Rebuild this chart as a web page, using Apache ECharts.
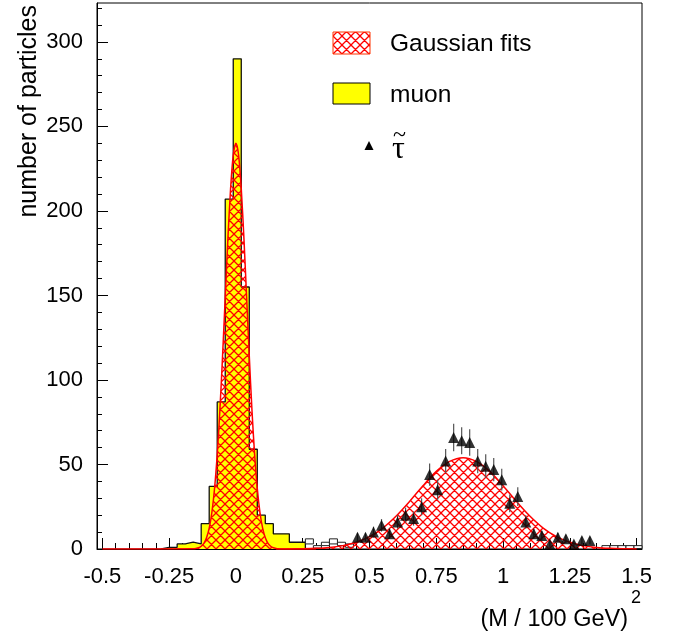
<!DOCTYPE html>
<html><head><meta charset="utf-8">
<script src="https://cdn.jsdelivr.net/npm/echarts@6/dist/echarts.min.js"></script>
<style>html,body{margin:0;padding:0;background:#fff}#c{width:678px;height:640px}</style>
</head><body><div id="c"></div>
<script>
// ---- muon histogram (bin left edges, bin width 0.03) ----
const binWidth = 0.03;
const muonEdges = [-0.28,-0.25,-0.22,-0.19,-0.16,-0.13,-0.10,-0.07,-0.04,-0.01,0.02,0.05,0.08,0.11,0.14,0.17,0.20,0.23];
const muonCounts = [1,1,3,4,3,15,37,87,207,290,155,59,20,15,9,9,4,4];
// ---- small hollow boxes (bin left edge, low, high) ----
const boxLeft = [0.26,0.29,0.32,0.35,0.38,0.41,1.37,1.40,1.43,1.46,1.49];
const boxLow  = [3,0.5,2,3,2,1,0.3,0.3,0.3,0.3,0.3];
const boxHigh = [6,2,4,6,4,3,2,2,2,2,2];
// ---- stau points ----
const tauX = [0.455,0.485,0.515,0.545,0.575,0.605,0.635,0.665,0.695,0.725,0.755,0.785,0.815,0.845,0.875,0.905,0.935,0.965,0.995,1.025,1.055,1.085,1.115,1.145,1.175,1.205,1.235,1.265,1.295,1.325];
const tauY = [7,7,10,14,9,16,20,18,25,44,35,52,66,64,63,52,49,47,41,27,31,16,9,8,3,7,6,3,5,5];
const tauErr = [2.6,2.6,3.2,3.7,3,4,4.5,4.2,5,6.6,5.9,7.2,8.1,8,7.9,7.2,7,6.9,6.4,5.2,5.6,4,3,2.8,1.7,2.6,2.4,1.7,2.2,2.2];
// ---- Gaussian fit curves ----
const muFitX = [-0.5,-0.16,-0.15,-0.14,-0.13,-0.12,-0.11,-0.10,-0.09,-0.08,-0.07,-0.06,-0.05,-0.04,-0.03,-0.02,-0.01,0,0.01,0.02,0.03,0.04,0.05,0.06,0.07,0.08,0.09,0.10,0.11,0.12,0.13,0.14,0.15,0.16,0.3];
const muFitY = [0,0.1,0.3,0.7,1.6,3.3,6.6,12.3,21.6,35.8,55.9,82.2,114.1,149.1,183.6,213.1,233.0,240,233.0,213.1,183.6,149.1,114.1,82.2,55.9,35.8,21.6,12.3,6.6,3.3,1.6,0.7,0.3,0.1,0];
const tauFitX = [0.15,0.20,0.25,0.30,0.35,0.40,0.45,0.50,0.55,0.60,0.65,0.70,0.75,0.80,0.85,0.90,0.95,1.00,1.05,1.10,1.15,1.20,1.25,1.30,1.35,1.40,1.45,1.50];
const tauFitY = [0.02,0.05,0.15,0.39,0.91,2.0,4.0,7.3,12.4,19.5,28.1,37.4,45.9,51.8,54,51.8,45.9,37.4,28.1,19.5,12.4,7.3,4.0,2.0,0.91,0.39,0.15,0.05];
// ---- axis ticks ----
const xMajor = [-0.5,-0.25,0,0.25,0.5,0.75,1,1.25,1.5];
const xMinor = [-0.45,-0.4,-0.35,-0.3,-0.2,-0.15,-0.1,-0.05,0.05,0.1,0.15,0.2,0.3,0.35,0.4,0.45,0.55,0.6,0.65,0.7,0.8,0.85,0.9,0.95,1.05,1.1,1.15,1.2,1.3,1.35,1.4,1.45];
const yMajor = [0,50,100,150,200,250,300];
const yMinor = [10,20,30,40,60,70,80,90,110,120,130,140,160,170,180,190,210,220,230,240,260,270,280,290,310,320];

function makeHatch(color){
  const s = 9, c = document.createElement('canvas');
  c.width = s; c.height = s;
  const ctx = c.getContext('2d');
  ctx.strokeStyle = color; ctx.lineWidth = 1.3;
  ctx.beginPath();
  for (let k=-1;k<=1;k++){
    ctx.moveTo(k*s,0); ctx.lineTo(k*s+s,s);
    ctx.moveTo(k*s,s); ctx.lineTo(k*s+s,0);
  }
  ctx.stroke();
  return c;
}
const hatch = makeHatch('#ff0000');
const FONT = 'Liberation Sans, Arial, Helvetica, sans-serif';
const SERIF = 'Liberation Serif, Times New Roman, serif';

const muonLine = [[muonEdges[0],0]];
muonEdges.forEach((e,i)=>muonLine.push([e,muonCounts[i]]));
muonLine.push([muonEdges[muonEdges.length-1]+binWidth,0]);

const boxData = boxLeft.map((l,i)=>[l,boxLow[i],boxHigh[i]]);
const tauData = tauX.map((x,i)=>[x,tauY[i],tauErr[i]]);

const chart = echarts.init(document.getElementById('c'), null, {renderer:'canvas'});
chart.setOption({
  animation:false,
  backgroundColor:'#fff',
  grid:{left:97,top:3,right:36,bottom:91,show:true,borderColor:'#000',borderWidth:1,backgroundColor:'transparent'},
  xAxis:[
    {type:'value',min:-0.52,max:1.52,position:'bottom',
     axisLine:{show:true,onZero:false,lineStyle:{color:'#000',width:1}},
     axisTick:{show:true,inside:true,length:11,customValues:xMajor,lineStyle:{color:'#000'}},
     axisLabel:{show:true,customValues:xMajor,color:'#000',fontSize:22,fontFamily:FONT,margin:17,
       formatter:v=>String(+v.toFixed(2))},
     splitLine:{show:false}},
    {type:'value',min:-0.52,max:1.52,position:'bottom',gridIndex:0,
     axisLine:{show:false,onZero:false},
     axisTick:{show:true,inside:true,length:6,customValues:xMinor,lineStyle:{color:'#000'}},
     axisLabel:{show:false},splitLine:{show:false}}
  ],
  yAxis:[
    {type:'value',min:0,max:323,position:'left',
     axisLine:{show:true,onZero:false,lineStyle:{color:'#000',width:1}},
     axisTick:{show:true,inside:true,length:11,customValues:yMajor,lineStyle:{color:'#000'}},
     axisLabel:{show:true,customValues:yMajor,color:'#000',fontSize:22,fontFamily:FONT,margin:14},
     splitLine:{show:false}},
    {type:'value',min:0,max:323,position:'left',gridIndex:0,
     axisLine:{show:false,onZero:false},
     axisTick:{show:true,inside:true,length:5,customValues:yMinor,lineStyle:{color:'#000'}},
     axisLabel:{show:false},splitLine:{show:false}}
  ],
  series:[
    {name:'muon',type:'line',step:'end',data:muonLine,symbol:'none',z:2,
     lineStyle:{color:'#111',width:1.3},areaStyle:{color:'#ffff00',opacity:1}},
    {name:'boxes',type:'custom',z:3,data:boxData,
     renderItem:(p,api)=>{
       const a=api.coord([api.value(0),api.value(2)]);
       const b=api.coord([api.value(0)+binWidth,api.value(1)]);
       return {type:'rect',shape:{x:a[0],y:a[1],width:b[0]-a[0],height:b[1]-a[1]},
         style:{fill:'#fff',stroke:'#222',lineWidth:1}};
     }},
    {name:'Gaussian fits',type:'line',data:muFitX.map((x,i)=>[x,muFitY[i]]),smooth:0.3,symbol:'none',z:4,
     lineStyle:{color:'#ff0000',width:1.5},areaStyle:{color:{image:hatch,repeat:'repeat'},opacity:1}},
    {name:'Gaussian fits',type:'line',data:tauFitX.map((x,i)=>[x,tauFitY[i]]),smooth:0.3,symbol:'none',z:4,
     lineStyle:{color:'#ff0000',width:1.5},areaStyle:{color:{image:hatch,repeat:'repeat'},opacity:1}},
    {name:'errors',type:'custom',z:5,data:tauData,
     renderItem:(p,api)=>{
       const t=api.coord([api.value(0),api.value(1)+api.value(2)]);
       const b=api.coord([api.value(0),Math.max(0,api.value(1)-api.value(2))]);
       return {type:'line',shape:{x1:t[0],y1:t[1],x2:b[0],y2:b[1]},style:{stroke:'#555',lineWidth:1.2}};
     }},
    {name:'tau',type:'scatter',z:6,data:tauData.map(d=>[d[0],d[1]]),symbol:'triangle',symbolSize:[11,11],
     itemStyle:{color:'#000'}}
  ],
  graphic:[
    {type:'text',x:29,y:5,rotation:Math.PI/2,style:{text:'number of particles',fill:'#000',font:'25px '+FONT,align:'right',verticalAlign:'middle'}},
    {type:'text',x:628,y:620,style:{text:'(M / 100 GeV)',fill:'#000',font:'23.5px '+FONT,align:'right',verticalAlign:'middle'}},
    {type:'text',x:631,y:598,style:{text:'2',fill:'#000',font:'18px '+FONT,align:'left',verticalAlign:'middle'}},
    {type:'rect',shape:{x:333,y:32,width:37,height:22},style:{fill:{image:hatch,repeat:'repeat'},stroke:'#ff3300',lineWidth:1}},
    {type:'text',x:390,y:44,style:{text:'Gaussian fits',fill:'#000',font:'24.5px '+FONT,align:'left',verticalAlign:'middle'}},
    {type:'rect',shape:{x:333,y:83,width:37,height:21},style:{fill:'#ffff00',stroke:'#000',lineWidth:1}},
    {type:'text',x:390,y:95,style:{text:'muon',fill:'#000',font:'24.5px '+FONT,align:'left',verticalAlign:'middle'}},
    {type:'polygon',shape:{points:[[369,141],[373.5,150],[364.5,150]]},style:{fill:'#000'}},
    {type:'text',x:392,y:150,style:{text:'τ',fill:'#000',font:'32px '+SERIF,align:'left',verticalAlign:'middle'}},
    {type:'text',x:393,y:136,style:{text:'~',fill:'#000',font:'24px '+SERIF,align:'left',verticalAlign:'middle'}}
  ]
});
</script></body></html>
